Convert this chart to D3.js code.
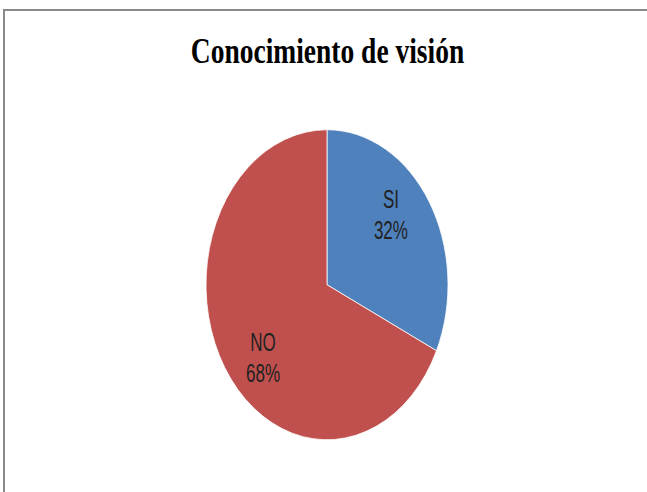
<!DOCTYPE html>
<html>
<head>
<meta charset="utf-8">
<script src="https://cdn.jsdelivr.net/npm/d3@7"></script>
<style>
  html, body { margin: 0; padding: 0; background: #fff; overflow: hidden; }
  svg { display: block; }
</style>
</head>
<body>
<svg id="chart" width="647" height="492"></svg>
<script>
// Survey answers: share of respondents who know the vision statement
const categories = ["SI", "NO"];
const values = [32, 68];
const colors = ["#4F81BD", "#C0504D"];
const title = "Conocimiento de visión";

const W = 647, H = 492;
const svg = d3.select("#chart");

// chart frame: only the top and left edges fall inside the page
svg.append("path")
  .attr("d", `M4,${H + 5}V10H${W + 5}`)
  .attr("fill", "none")
  .attr("stroke", "#8a8a8a")
  .attr("stroke-width", 2);

// vertical stretch applied to the whole plot
const sy = 1.281;

svg.append("text")
  .attr("transform", `translate(327.5,63) scale(1,${sy})`)
  .attr("text-anchor", "middle")
  .attr("font-family", "Liberation Serif, Times New Roman, serif")
  .attr("font-weight", "bold")
  .attr("font-size", 27.5)
  .attr("fill", "#000")
  .text(title);

const data = categories.map((c, i) => ({ name: c, value: values[i], color: colors[i] }));
const total = d3.sum(values);

const pie = d3.pie().value(d => d.value).sort(null);
const radius = 121;
const arc = d3.arc().innerRadius(0).outerRadius(radius);
const labelArc = d3.arc().innerRadius(0).outerRadius(radius * 1.4);

const g = svg.append("g")
  .attr("transform", `translate(327,284.75) scale(1,${sy})`);

const arcs = pie(data);

g.selectAll("path.slice")
  .data(arcs)
  .join("path")
  .attr("class", "slice")
  .attr("d", arc)
  .attr("fill", d => d.data.color)
  .attr("stroke", "#fff")
  .attr("stroke-width", 0.7);

// labels sit slightly counter-clockwise of each slice's middle
const shift = -0.15;
const labels = g.selectAll("g.lbl")
  .data(arcs)
  .join("g")
  .attr("class", "lbl")
  .attr("transform", d => {
    const a = (d.startAngle + d.endAngle) / 2 + shift;
    const [x, y] = labelArc.centroid({ startAngle: a, endAngle: a });
    return `translate(${x},${y}) scale(0.85,1)`;
  });

labels.each(function(d) {
  const t = d3.select(this).append("text")
    .attr("text-anchor", "middle")
    .attr("font-family", "Liberation Sans, Arial, sans-serif")
    .attr("font-size", 20)
    .attr("fill", "#222");
  t.append("tspan").attr("x", 0).attr("y", -4).text(d.data.name);
  t.append("tspan").attr("x", 0).attr("y", 20.2).text(Math.round(d.data.value / total * 100) + "%");
});
</script>
</body>
</html>
